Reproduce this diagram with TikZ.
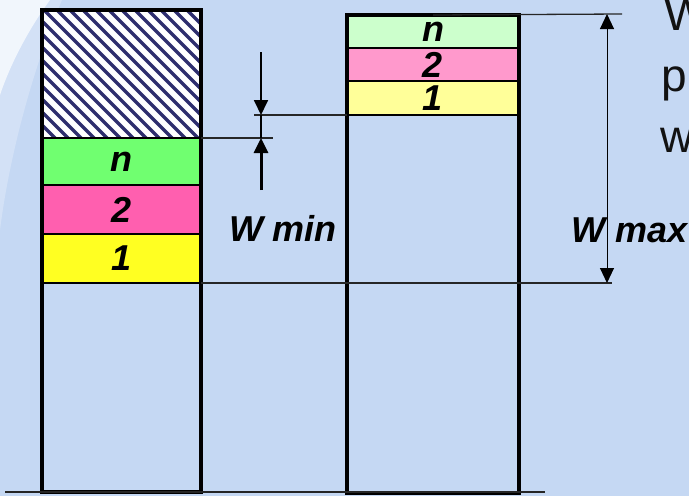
\documentclass[tikz,border=0pt]{standalone}
\usepackage{fontspec}
\setmainfont{Liberation Sans}
\usepackage{tikz}
\usetikzlibrary{arrows.meta}

\definecolor{slidebg}{HTML}{C5D8F3}
\definecolor{hatchblue}{HTML}{2E2E6E}
\definecolor{lgreen}{HTML}{70FF70}
\definecolor{lpink}{HTML}{FF5FAF}
\definecolor{lyellow}{HTML}{FFFF22}
\definecolor{rgreen}{HTML}{CCFFCC}
\definecolor{rpink}{HTML}{FF99CC}
\definecolor{ryellow}{HTML}{FFFF99}

\begin{document}
\begin{tikzpicture}[x=1pt,y=-1pt,
	lbl/.style={font=\bfseries\itshape\fontsize{36}{40}\selectfont},
	band/.style={draw=black,inner sep=0pt,outer sep=0pt,lbl},
	col/.style={draw=black,line width=4pt,inner sep=0pt,outer sep=0pt},
	ext/.style={draw=black!85,line width=1.3pt},
	tip/.style={-{Triangle[length=15pt,width=14pt]}},
	slidetext/.style={anchor=base west,inner sep=0pt,text=black!93,font=\fontsize{46}{56}\selectfont}]

	\clip (0,0) rectangle (689,496);
	\fill[slidebg] (0,0) rectangle (689,496);
	\fill[white,opacity=0.25] (0,0) -- (62,0) .. controls (36,60) and (10,150) .. (0,230) -- cycle;
	\fill[white,opacity=0.7] (0,0) -- (50,0) .. controls (28,30) and (10,65) .. (0,95) -- cycle;

	% hatched part
	\begin{scope}
		\clip (42,10) rectangle (201,138);
		\fill[white] (42,10) rectangle (201,138);
		\foreach \a in {-99,-86,...,204}
			\draw[hatchblue,line width=3.5pt] (\a,10) -- ++(130,130);
	\end{scope}

	\node[band,line width=2.5pt,fill=lgreen,minimum width=159pt,minimum height=47pt]  (ln) at (121.5, 161.5) {n};
	\node[band,line width=2.5pt,fill=lpink,minimum width=159pt,minimum height=49pt]   (l2) at (121.5, 209.5) {2};
	\node[band,line width=2.5pt,fill=lyellow,minimum width=159pt,minimum height=49pt] (l1) at (121.5, 258.5) {1};

	\node[band,line width=2pt,fill=rgreen,minimum width=172pt,minimum height=33pt]  (rn) at (433, 31.5) {n};
	\node[band,line width=2pt,fill=rpink,minimum width=172pt,minimum height=33pt]   (r2) at (433, 64.5) {2};
	\node[band,line width=2pt,fill=ryellow,minimum width=172pt,minimum height=34pt] (r1) at (433, 98)   {1};

	\node[col,minimum width=159pt,minimum height=482pt] (lcol) at (121.5, 251) {};
	\node[col,minimum width=172pt,minimum height=478pt] (rcol) at (433, 254)   {};

	\coordinate (baseL) at (5, 492);
	\coordinate (baseR) at (545, 492);
	\coordinate (maxlow) at (612, 283);
	\coordinate (maxtop) at (622, 14);
	\coordinate (minlow) at (273, 138);
	\coordinate (minup) at (254, 115);
	\coordinate (wmaxtop) at (607, 14);
	\coordinate (wmaxbot) at (607, 283);
	\coordinate (wmintop) at (261, 52);
	\coordinate (wminA) at (261, 115);
	\coordinate (wminB) at (261, 138);
	\coordinate (wminbot) at (261, 190);

	\draw[black!85,line width=1.5pt] (baseL) -- (baseR);
	\draw[ext] (l1.south east) -- (maxlow);
	\draw[ext] (rn.north) -- (maxtop);
	\draw[ext] (ln.north east) -- (minlow);
	\draw[ext] (minup) -- (r1.south west);

	\draw[line width=1pt,{Triangle[length=15pt,width=14pt]}-{Triangle[length=15pt,width=14pt]}] (wmaxtop) -- (wmaxbot);
	\draw[tip,line width=1.8pt] (wmintop) -- (wminA);
	\draw[line width=1.3pt] (wminA) -- (wminB);
	\draw[tip,line width=3pt] (wminbot) -- (wminB);

	\node[lbl,inner sep=0pt] (wmin) at (283, 228.5) {W min};
	\node[lbl,inner sep=0pt] (wmax) at (629.5, 230.5) {W max};

	\node[slidetext] (tw) at (664, 30)  {W};
	\node[slidetext] (tp) at (661, 91)  {p};
	\node[slidetext] (tv) at (660, 152) {w};
\end{tikzpicture}
\end{document}
